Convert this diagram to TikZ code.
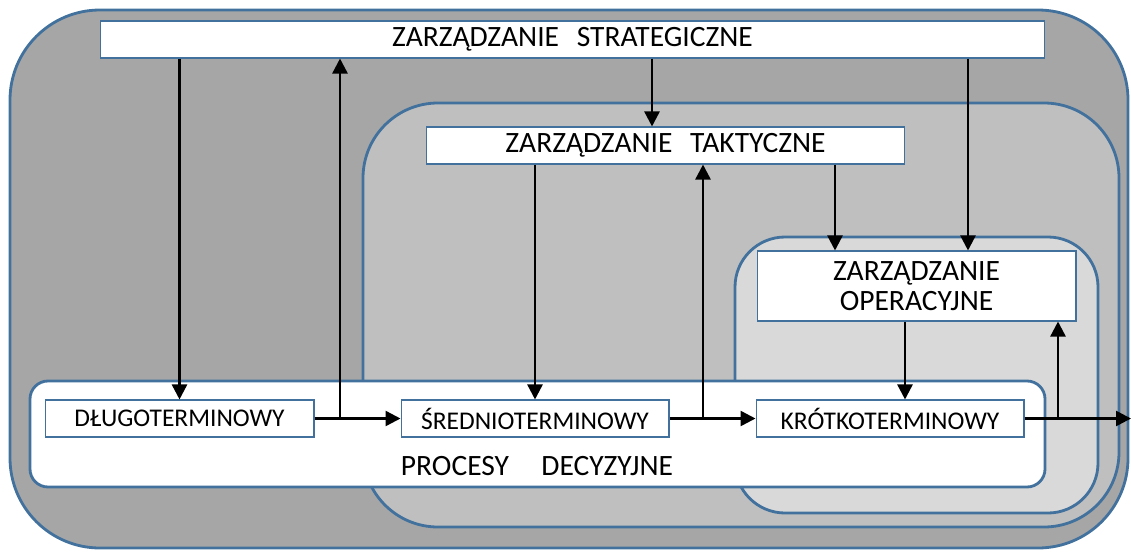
\documentclass[tikz,border=0pt]{standalone}
\usepackage{fontspec}
\setmainfont{Carlito}
\usetikzlibrary{arrows.meta,positioning}
\definecolor{frameblue}{HTML}{41719C}
\definecolor{darkfill}{HTML}{A6A6A6}
\definecolor{midfill}{HTML}{BFBFBF}
\definecolor{lightfill}{HTML}{D9D9D9}
\tikzset{
  region/.style={draw=frameblue,line width=1.6pt,rounded corners=#1},
  box/.style={draw=frameblue,line width=0.6pt,fill=white,inner sep=0pt,
    minimum height=0.74cm,font=\fontsize{14.5}{17}\selectfont},
  titlebox/.style={box,font=\fontsize{16.8}{17.5}\selectfont,align=center},
  arr/.style={-{Triangle[length=0.3cm,width=0.3cm]},line width=1.4pt}
}
\begin{document}
\begin{tikzpicture}[x=0.02cm,y=-0.02cm]
\useasboundingbox(0,0)rectangle(1131,551);
% nested levels
\filldraw[region=1.8cm,fill=darkfill](10,10)rectangle(1128,548);
\filldraw[region=1.5cm,fill=midfill](363,103)rectangle(1119,527);
\filldraw[region=1cm,fill=lightfill](735,237)rectangle(1098,513);
\filldraw[region=0.36cm,fill=white](30,381)rectangle(1045,487);
\node(proc)at(537,466){\fontsize{16.8}{17.5}\selectfont PROCESY\hspace{1.1em}DECYZYJNE};
% management boxes
\node[titlebox,minimum width=18.9cm](strat)at(572.5,39.5){ZARZĄDZANIE\hspace{0.6em}STRATEGICZNE};
\node[titlebox,minimum width=9.58cm](takt)at(665.5,145.5){ZARZĄDZANIE\hspace{0.6em}TAKTYCZNE};
\node[titlebox,minimum width=6.38cm,minimum height=1.4cm](oper)at(916.5,286){ZARZĄDZANIE\\OPERACYJNE};
% decision boxes
\node[box,minimum width=5.38cm](dlugo)at(179.5,418.5){DŁUGOTERMINOWY};
\node[box,minimum width=5.36cm](sred)at(535,418.5){ŚREDNIOTERMINOWY};
\node[box,minimum width=5.36cm](krotko)at(890,418.5){KRÓTKOTERMINOWY};
% branch points
\coordinate(j1)at(340,418.5);
\coordinate(j2)at(703,418.5);
\coordinate(j3)at(1058,418.5);
\coordinate(out)at(1131,418.5);
\coordinate(s1)at(652,0);\coordinate(s2)at(968,0);
\coordinate(t1)at(835,0);\coordinate(o1)at(905,0);
% flow
\draw[arr](dlugo.east)--(sred.west);
\draw[arr](sred.east)--(krotko.west);
\draw[arr](krotko.east)--(out);
\draw[arr](j1)--(j1|-strat.south);
\draw[arr](j2)--(j2|-takt.south);
\draw[arr](j3)--(j3|-oper.south);
\draw[arr](strat.south-|dlugo)--(dlugo.north);
\draw[arr](strat.south-|s1)--(takt.north-|s1);
\draw[arr](strat.south-|s2)--(oper.north-|s2);
\draw[arr](takt.south-|sred)--(sred.north);
\draw[arr](takt.south-|t1)--(oper.north-|t1);
\draw[arr](oper.south-|o1)--(krotko.north-|o1);
\end{tikzpicture}
\end{document}
